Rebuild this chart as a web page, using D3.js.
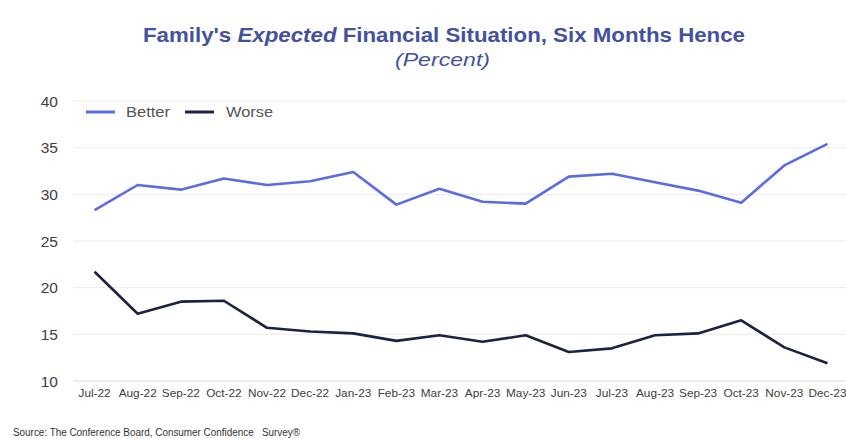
<!DOCTYPE html>
<html>
<head>
<meta charset="utf-8">
<script src="https://cdn.jsdelivr.net/npm/d3@7"></script>
<style>
  body { margin: 0; background: #fff; }
  svg { font-family: "Liberation Sans", Arial, sans-serif; }
</style>
</head>
<body>
<svg id="chart" width="846" height="439"></svg>
<script>
// months along the x axis
const months = ['Jul-22', 'Aug-22', 'Sep-22', 'Oct-22', 'Nov-22', 'Dec-22', 'Jan-23', 'Feb-23', 'Mar-23',
  'Apr-23', 'May-23', 'Jun-23', 'Jul-23', 'Aug-23', 'Sep-23', 'Oct-23', 'Nov-23', 'Dec-23'];
const better = [28.3, 31.0, 30.5, 31.7, 31.0, 31.4, 32.4, 28.9, 30.6, 29.2, 29.0, 31.9, 32.2, 31.3, 30.4, 29.1, 33.1, 35.4];
const worse = [21.7, 17.2, 18.5, 18.6, 15.7, 15.3, 15.1, 14.3, 14.9, 14.2, 14.9, 13.1, 13.5, 14.9, 15.1, 16.5, 13.6, 11.9];
const yTicks = [10, 15, 20, 25, 30, 35, 40];

const svg = d3.select('#chart');
const plot = { left: 73, right: 849, top: 101, bottom: 381 };

const x = d3.scaleBand().domain(months).range([plot.left, plot.right]);
const y = d3.scaleLinear().domain([10, 40]).range([plot.bottom, plot.top]);
const cx = d => x(d) + x.bandwidth() / 2;

// grid
svg.append('g').selectAll('line')
  .data(yTicks)
  .enter().append('line')
  .attr('x1', plot.left).attr('x2', 846)
  .attr('y1', d => y(d)).attr('y2', d => y(d))
  .attr('stroke', d => d === 10 ? '#d9d9d9' : '#ebebeb')
  .attr('stroke-width', 1);

// y labels
svg.append('g').selectAll('text')
  .data(yTicks)
  .enter().append('text')
  .attr('x', 58).attr('y', d => y(d) + 5.5)
  .attr('text-anchor', 'end')
  .attr('font-size', 15.5)
  .attr('fill', '#404040')
  .text(d => d);

// x axis
const xAxis = svg.append('g')
  .attr('transform', `translate(0,${plot.bottom})`)
  .call(d3.axisBottom(x).tickSize(0).tickPadding(8));
xAxis.select('.domain').remove();
xAxis.selectAll('text')
  .attr('font-size', 11.8)
  .attr('fill', '#404040')
  .attr('font-family', '"Liberation Sans", Arial, sans-serif');

// series
const line = d3.line().x((d, i) => cx(months[i])).y(d => y(d));
const series = [
  { name: 'Better', values: better, color: '#5a6ce0', lineX: 86, textX: 126, textW: 44 },
  { name: 'Worse', values: worse, color: '#1c2240', lineX: 185, textX: 226, textW: 47 }
];
svg.append('g').selectAll('path')
  .data(series)
  .enter().append('path')
  .attr('d', d => line(d.values))
  .attr('fill', 'none')
  .attr('stroke', d => d.color)
  .attr('stroke-width', 2.6)
  .attr('stroke-linejoin', 'round');

// legend
series.forEach(s => {
  svg.append('line').attr('x1', s.lineX).attr('x2', s.lineX + 29).attr('y1', 112).attr('y2', 112)
    .attr('stroke', s.color).attr('stroke-width', 3);
  svg.append('text').attr('x', s.textX).attr('y', 117)
    .attr('font-size', 14.5).attr('fill', '#555')
    .attr('textLength', s.textW).attr('lengthAdjust', 'spacingAndGlyphs')
    .text(s.name);
});

// titles
const title = svg.append('text')
  .attr('x', 143).attr('y', 42)
  .attr('font-size', 20.5)
  .attr('font-weight', 'bold')
  .attr('fill', '#44529c')
  .attr('textLength', 602).attr('lengthAdjust', 'spacingAndGlyphs');
title.append('tspan').text("Family's ");
title.append('tspan').attr('font-style', 'italic').text('Expected');
title.append('tspan').text(' Financial Situation, Six Months Hence');

svg.append('text')
  .attr('x', 395).attr('y', 66)
  .attr('font-size', 19)
  .attr('font-style', 'italic')
  .attr('fill', '#44529c')
  .attr('textLength', 95).attr('lengthAdjust', 'spacingAndGlyphs')
  .text('(Percent)');

svg.append('text')
  .attr('x', 13).attr('y', 436)
  .attr('font-size', 10)
  .attr('fill', '#333')
  .attr('xml:space', 'preserve')
  .style('white-space', 'pre')
  .attr('textLength', 287).attr('lengthAdjust', 'spacingAndGlyphs')
  .text('Source: The Conference Board, Consumer Confidence   Survey®');
</script>
</body>
</html>
